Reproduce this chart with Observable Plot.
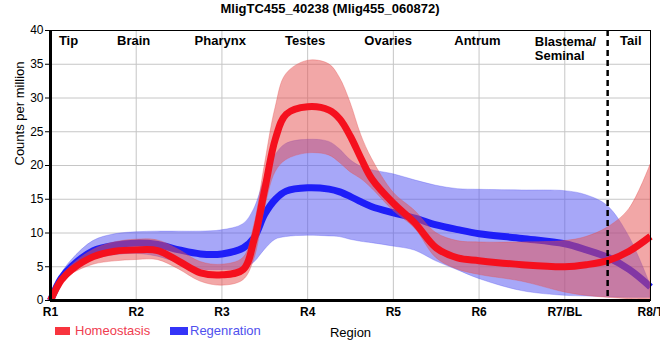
<!DOCTYPE html>
<html><head><meta charset="utf-8">
<script src="https://cdn.jsdelivr.net/npm/d3@7"></script>
<script src="https://cdn.jsdelivr.net/npm/@observablehq/plot@0.6"></script>
<style>
body{margin:0;background:#fff;font-family:"Liberation Sans",Arial,sans-serif;}
#wrap{position:relative;width:660px;height:360px;overflow:hidden;background:#fff;}
#chart{position:absolute;left:0;top:0;}
#title{position:absolute;top:1px;left:0;width:660px;text-align:center;font-weight:bold;font-size:13px;line-height:16px;color:#000;}
.leg{position:absolute;top:323px;font-size:13px;line-height:15px;white-space:nowrap;}
.sw{position:absolute;top:4px;height:8px;}
</style></head><body>
<div id="wrap"><div id="chart"></div><div id="title"></div><div id="legend"></div></div>
<script>
// ---- data ----
const chartTitle = "MligTC455_40238 (Mlig455_060872)";
const xs = [1, 1.125, 1.25, 1.5, 1.75, 2, 2.25, 2.5, 2.75, 3, 3.25, 3.375, 3.5, 3.625, 3.75, 4, 4.25, 4.375, 4.5, 4.625, 4.75, 5, 5.25, 5.5, 5.75, 6, 6.5, 7, 7.25, 7.5, 7.75, 8];
const homeo   = [0, 3.0, 4.6, 6.5, 7.3, 7.5, 7.4, 5.8, 4.1, 3.8, 4.6, 9.0, 16.5, 24.0, 27.6, 28.7, 28.2, 26.9, 24.3, 21.0, 18.0, 14.4, 11.5, 7.8, 6.3, 5.9, 5.3, 5.0, 5.3, 5.9, 7.3, 9.5];
const homeoHi = [0, 3.3, 5.2, 7.5, 8.6, 9.0, 8.9, 7.5, 5.7, 5.3, 6.3, 11.0, 20.0, 28.5, 33.5, 35.5, 35.0, 33.0, 29.3, 24.5, 21.0, 16.0, 13.3, 10.0, 8.8, 8.6, 8.6, 8.8, 9.4, 10.8, 13.5, 20.1];
const homeoLo = [0, 2.6, 3.9, 5.3, 5.8, 6.0, 6.0, 4.6, 2.8, 2.2, 3.0, 6.0, 13.5, 19.0, 20.8, 21.8, 21.5, 20.4, 19.0, 18.0, 16.6, 13.3, 10.7, 6.3, 4.6, 3.8, 2.8, 1.2, 0.7, 0.4, 0.2, 0.1];
const regen   = [0, 3.3, 5.1, 7.4, 8.2, 8.5, 8.3, 7.5, 6.9, 6.9, 7.8, 9.3, 12.8, 15.0, 16.2, 16.7, 16.5, 16.1, 15.4, 14.6, 13.9, 13.0, 12.2, 11.2, 10.5, 9.9, 9.2, 8.4, 7.5, 6.4, 4.6, 2.0];
const regenHi = [0, 3.8, 6.0, 8.8, 9.8, 10.1, 10.2, 10.2, 10.2, 10.4, 11.3, 13.5, 18.0, 21.5, 23.2, 23.8, 23.5, 22.4, 20.8, 19.8, 19.3, 18.7, 17.8, 17.0, 16.5, 16.4, 16.3, 16.2, 15.6, 14.0, 9.5, 2.3];
const regenLo = [0, 2.8, 4.2, 6.0, 6.7, 6.9, 6.5, 5.5, 4.6, 4.5, 4.7, 5.6, 7.5, 9.0, 9.4, 9.6, 9.5, 9.4, 9.0, 8.7, 8.5, 8.0, 7.4, 5.8, 4.5, 3.2, 1.4, 0.7, 0.6, 0.5, 0.4, 0.4];
const xTicks = [1, 2, 3, 4, 5, 6, 7, 8];
const tickLabels = ["R1", "R2", "R3", "R4", "R5", "R6", "R7/BL", "R8/T"];
const yTicks = [0, 5, 10, 15, 20, 25, 30, 35, 40];
const regionNames = ["Tip", "Brain", "Pharynx", "Testes", "Ovaries", "Antrum", "Tail"];
const regionX = [1.21, 1.97, 2.98, 3.97, 4.94, 5.98, 7.77];
const blastemaName = ["Blastema/\nSeminal"];
const blastemaX = [6.65];
const boundaryX = [7.5];
const seriesNames = ["Homeostasis", "Regenration"];
const xLabel = "Region";
const yLabel = "Counts per million";

// ---- build ----
const data = xs.map((x, i) => ({x, hm: homeo[i], hmLo: homeoLo[i], hmHi: homeoHi[i], rg: regen[i], rgLo: regenLo[i], rgHi: regenHi[i]}));
const curve = "catmull-rom";
const font = '"Liberation Sans", Arial, sans-serif';

const plot = Plot.plot({
  width: 660, height: 345,
  marginTop: 30, marginBottom: 45, marginLeft: 50, marginRight: 10,
  style: {fontFamily: font, background: "white"},
  x: {domain: [1, 8]},
  y: {domain: [0, 40]},
  marks: [
    Plot.gridY(yTicks.slice(1, -1), {stroke: "#c6c6c6", strokeOpacity: 1}),
    Plot.gridX(xTicks.slice(1, -1), {stroke: "#c6c6c6", strokeOpacity: 1}),
    Plot.areaY(data, {x: "x", y1: "rgLo", y2: "rgHi", fill: "#4f4ff2", fillOpacity: 0.5, stroke: "#4f4ff2", strokeOpacity: 0.3, curve}),
    Plot.lineY(data, {x: "x", y: "rg", stroke: "#1e1ef8", strokeWidth: 7, strokeLinecap: "butt", curve}),
    Plot.areaY(data, {x: "x", y1: "hmLo", y2: "hmHi", fill: "#e65050", fillOpacity: 0.5, stroke: "#e65050", strokeOpacity: 0.35, curve}),
    Plot.lineY(data, {x: "x", y: "hm", stroke: "#f5101e", strokeWidth: 7, strokeLinecap: "butt", curve}),
    Plot.ruleX(boundaryX, {stroke: "black", strokeWidth: 2.5, strokeDasharray: "6,4"}),
    Plot.frame({stroke: "black", strokeWidth: 1}),
    Plot.ruleX([1], {stroke: "black", strokeWidth: 3}),
    Plot.ruleY([0], {stroke: "black", strokeWidth: 3}),
    Plot.axisY({ticks: yTicks, tickSize: 5, tickPadding: 2, fontSize: 12, label: null}),
    Plot.axisX({ticks: xTicks, tickFormat: d => tickLabels[d - 1], tickSize: 0, tickPadding: 7, fontSize: 12, fontWeight: "bold", label: null}),
    Plot.text(regionNames, {x: regionX, text: d => d, frameAnchor: "top", lineAnchor: "top", dy: 5, fontSize: 13, fontWeight: "bold"}),
    Plot.text(blastemaName, {x: blastemaX, text: d => d, frameAnchor: "top", lineAnchor: "top", textAnchor: "start", dy: 5, fontSize: 13, fontWeight: "bold", lineHeight: 1.12}),
    Plot.text([xLabel], {text: d => d, frameAnchor: "bottom", lineAnchor: "bottom", dy: 36, fontSize: 13}),
    Plot.text([yLabel], {text: d => d, frameAnchor: "left", rotate: -90, dx: -31, fontSize: 13})
  ]
});
document.getElementById("chart").appendChild(plot);
document.getElementById("title").textContent = chartTitle;

// legend
const legColors = [{sw: "#f8343e", tx: "#f03c50", left: 55, swW: 15, gap: 20}, {sw: "#3434f8", tx: "#5050ee", left: 170, swW: 18, gap: 20}];
const legend = document.getElementById("legend");
seriesNames.forEach((name, i) => {
  const c = legColors[i];
  const item = document.createElement("div");
  item.className = "leg";
  item.style.left = c.left + "px";
  item.style.paddingLeft = c.gap + "px";
  item.style.color = c.tx;
  const sw = document.createElement("span");
  sw.className = "sw";
  sw.style.left = "0px";
  sw.style.width = c.swW + "px";
  sw.style.background = c.sw;
  item.appendChild(sw);
  item.appendChild(document.createTextNode(name));
  legend.appendChild(item);
});
</script>
</body></html>
